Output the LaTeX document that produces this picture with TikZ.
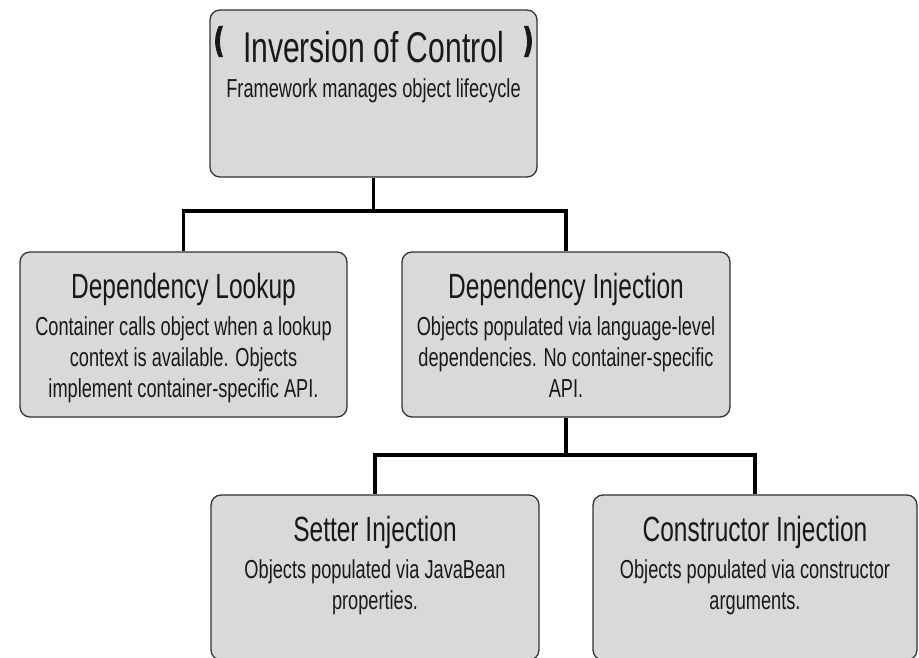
\documentclass[tikz,border=0pt]{standalone}
\usepackage{fontspec}
\setmainfont[FakeStretch=0.7]{Liberation Sans}
\newfontfamily\parenfont[FakeStretch=0.7, FakeBold=2.5]{DejaVu Sans Bold}
\definecolor{boxgray}{HTML}{D9D9D9}
\definecolor{edgegray}{HTML}{333333}
\newcommand{\bigparen}[1]{{\parenfont\fontsize{34}{31}\selectfont\raisebox{10.4pt}{#1}}}
\begin{document}
\begin{tikzpicture}[x=1pt, y=-1pt,
	box/.style = {draw=edgegray, line width=1.3pt, fill=boxgray, rounded corners=10pt, inner sep=0pt},
	boxtext/.style = {anchor=north, inner sep=0pt, align=center, text=black!90, font=\fontsize{26}{31}\selectfont},
	link/.style = {line width=3.5pt, line join=miter}]
	\useasboundingbox (0,0) rectangle (919,658);
	%Laatikot
	\node[box, minimum width=327pt, minimum height=167pt] (ioc) at (373.5,93.5) {};
	\node[box, minimum width=327pt, minimum height=165pt] (lookup) at (183.5,334.5) {};
	\node[box, minimum width=328pt, minimum height=165pt] (inject) at (566,334.5) {};
	\node[box, minimum width=328pt, minimum height=165pt] (setter) at (375,577.5) {};
	\node[box, minimum width=324pt, minimum height=165pt] (ctor) at (755,577.5) {};
	% Tekstit
	\node[boxtext] (ioctext) at ([yshift=-16.8pt]ioc.north) {\makebox[320pt]{\bigparen{(}\hfill{\fontsize{43}{31}\selectfont Inversion of Control}\hfill\bigparen{)}}\\[4pt] Framework manages object lifecycle};
	\node[boxtext] (lookuptext) at ([yshift=-21.5pt]lookup.north) {{\fontsize{35}{31}\selectfont Dependency Lookup}\\[6pt] Container calls object when a lookup\\ context is available. Objects\\ implement container-specific API.};
	\node[boxtext] (injecttext) at ([yshift=-21.5pt]inject.north) {{\fontsize{35}{31}\selectfont Dependency Injection}\\[6pt] Objects populated via language-level\\ dependencies. No container-specific\\ API.};
	\node[boxtext] (settertext) at ([yshift=-21.5pt]setter.north) {{\fontsize{35}{31}\selectfont Setter Injection}\\[6pt] Objects populated via JavaBean\\ properties.};
	\node[boxtext] (ctortext) at ([yshift=-21.5pt]ctor.north) {{\fontsize{35}{31}\selectfont Constructor Injection}\\[6pt] Objects populated via constructor\\ arguments.};
	% Viivat
	\coordinate (j1) at (373.5,211);
	\coordinate (j2) at (566,455);
	\draw[link] (ioc.south) -- (j1);			% ioc
	\draw[link] (lookup.north) |- (j1) -| (inject.north);	% lookup, inject
	\draw[link] (inject.south) -- (j2);			% inject
	\draw[link] (setter.north) |- (j2) -| (ctor.north);	% setter, ctor
\end{tikzpicture}
\end{document}
